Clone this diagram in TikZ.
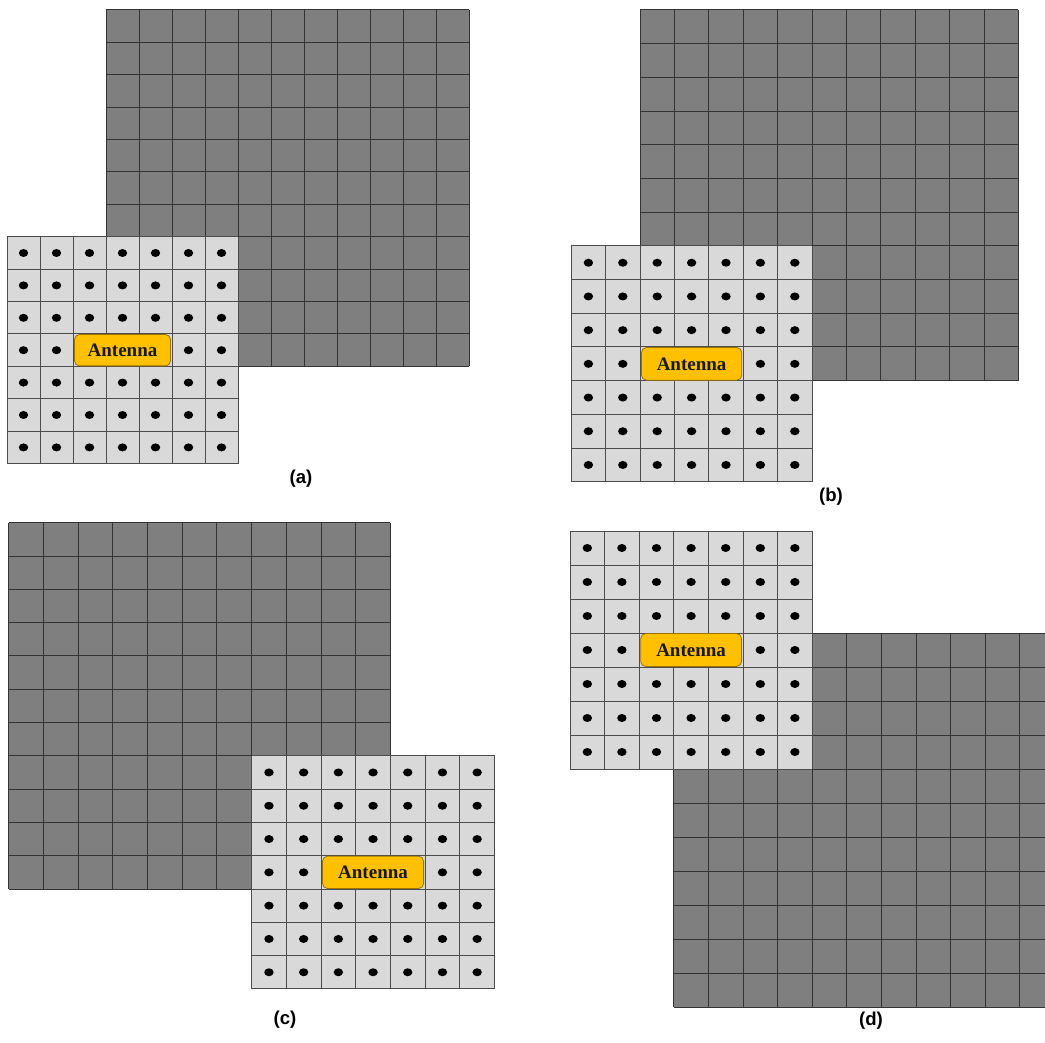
\documentclass[tikz,border=0pt]{standalone}
\usepackage{fontspec}
\setmainfont{Liberation Serif}
\newfontfamily\capfont{Liberation Sans}
\definecolor{cellDark}{HTML}{7F7F7F}
\definecolor{cellLight}{HTML}{D9D9D9}
\definecolor{antGold}{HTML}{FFC000}
\definecolor{antEdge}{HTML}{9A7200}

\begin{document}
\begin{tikzpicture}[
  x=0.5pt, y=-0.5pt,
  darkline/.style={draw=black!80, line width=0.5pt},
  lightline/.style={draw=black!70, line width=0.5pt},
  elem/.style={fill=black},
  antbox/.style={draw=antEdge, fill=antGold, rounded corners=2.5pt, line width=0.4pt,
    text=black!90, inner sep=0pt, font=\bfseries\fontsize{9.5}{11}\selectfont},
  caption/.style={inner sep=1pt, font=\capfont\bfseries\fontsize{9.3}{11}\selectfont}
]
\clip (0,0) rectangle (1045,1043);
\foreach \px/\py/\cw/\ch/\lx/\ly/\tag/\tx/\ty in {
    106/10/16.5/16.2/-3/7/a/301/479,
    640/10/17.2/16.85/-2/7/b/831/497,
    8.7/522.7/17.35/16.65/7/7/c/285/1020,
    673.8/633/17.3/17/-3/-3/d/871/1021} {
  \begin{scope}[shift={(\px,\py)}, x=\cw pt, y=-\ch pt]
    % unused part of the large array
    \fill[cellDark] (0,0) rectangle (11,11);
    \foreach \k in {0,...,11} {
      \draw[darkline] (\k,0) -- (\k,11);
      \draw[darkline] (0,\k) -- (11,\k);
    }
    % active 7x7 sub-array with the antenna
    \begin{scope}[shift={(\lx,\ly)}]
      \fill[cellLight] (0,0) rectangle (7,7);
      \foreach \k in {0,...,7} {
        \draw[lightline] (\k,0) -- (\k,7);
        \draw[lightline] (0,\k) -- (7,\k);
      }
      \foreach \i in {0,...,6} {
        \foreach \j in {0,...,6} {
          \pgfmathtruncatemacro\hidden{(\j==3)&&(\i>1)&&(\i<5)}
          \ifnum\hidden=0
            \fill[elem] (\i+0.5,\j+0.5) ellipse (2.35pt and 2pt);
          \fi
        }
      }
      \node[antbox, minimum width=3*\cw pt-1.5pt, minimum height=\ch pt-0.5pt]
        (ant-\tag) at (3.5,3.5) {Antenna};
    \end{scope}
  \end{scope}
  \node[caption] (cap-\tag) at (\tx,\ty) {(\tag)};
}
\end{tikzpicture}
\end{document}
